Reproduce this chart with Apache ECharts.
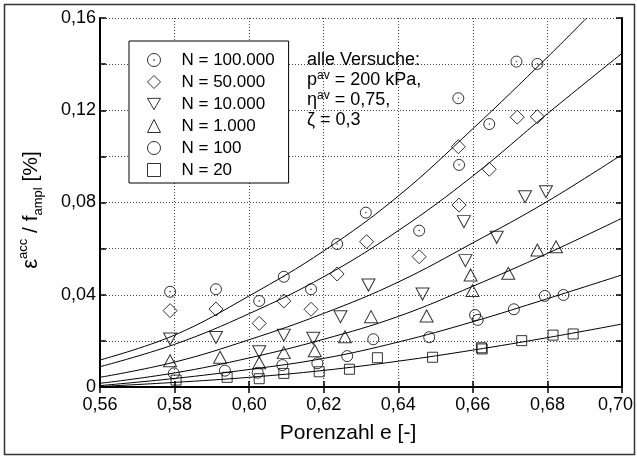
<!DOCTYPE html>
<html><head><meta charset="utf-8">
<script src="https://cdn.jsdelivr.net/npm/echarts@6/dist/echarts.min.js"></script>
<style>html,body{margin:0;padding:0;background:#fff}#c{width:637px;height:459px}</style>
</head><body><div id="c"></div>
<script>
// ---- tick definitions ----
const xMin = 0.56, xMax = 0.70, xStep = 0.02;
const yMin = 0, yMax = 0.16, yStep = 0.02;

// ---- series names ----
const seriesNames = ['N = 100.000', 'N = 50.000', 'N = 10.000', 'N = 1.000', 'N = 100', 'N = 20'];

// ---- measured points [e, eps_acc/f_ampl] ----
const pts100k = [[0.5788,0.0413],[0.5911,0.0424],[0.6027,0.0373],[0.6093,0.0478],[0.6166,0.0424],[0.6236,0.0620],[0.6313,0.0756],[0.6456,0.0678],[0.6561,0.1252],[0.6563,0.0963],[0.6644,0.1140],[0.6717,0.1411],[0.6773,0.1401]];
const pts50k  = [[0.5788,0.0331],[0.5911,0.0338],[0.6027,0.0276],[0.6093,0.0373],[0.6166,0.0337],[0.6236,0.0490],[0.6315,0.0630],[0.6456,0.0565],[0.6561,0.1042],[0.6563,0.0789],[0.6644,0.0944],[0.6719,0.1170],[0.6773,0.1172]];
const pts10k  = [[0.5788,0.0208],[0.5911,0.0215],[0.6027,0.0153],[0.6093,0.0225],[0.6172,0.0211],[0.6245,0.0305],[0.6320,0.0442],[0.6465,0.0403],[0.6576,0.0717],[0.6580,0.0548],[0.6664,0.0649],[0.6740,0.0825],[0.6796,0.0847]];
const pts1k   = [[0.5788,0.0114],[0.5922,0.0129],[0.6027,0.0105],[0.6093,0.0149],[0.6176,0.0157],[0.6257,0.0218],[0.6327,0.0305],[0.6476,0.0308],[0.6594,0.0486],[0.6599,0.0418],[0.6695,0.0493],[0.6773,0.0594],[0.6823,0.0608]];
const pts100  = [[0.5798,0.0059],[0.5935,0.0071],[0.6023,0.0062],[0.6089,0.0095],[0.6183,0.0103],[0.6263,0.0134],[0.6333,0.0207],[0.6483,0.0216],[0.6606,0.0312],[0.6613,0.0291],[0.6710,0.0337],[0.6793,0.0395],[0.6843,0.0399]];
const pts20   = [[0.5804,0.0030],[0.5941,0.0042],[0.6027,0.0036],[0.6093,0.0059],[0.6188,0.0066],[0.6269,0.0077],[0.6344,0.0127],[0.6492,0.0129],[0.6623,0.0170],[0.6625,0.0165],[0.6731,0.0201],[0.6815,0.0225],[0.6869,0.0230]];

// ---- fitted curves ----
const fit100k = [[0.56,0.0117],[0.58,0.0225],[0.60,0.0395],[0.62,0.0590],[0.64,0.0828],[0.66,0.1120],[0.68,0.1430],[0.6905,0.1600]];
const fit50k  = [[0.56,0.0088],[0.58,0.0185],[0.60,0.0318],[0.62,0.0478],[0.64,0.0678],[0.66,0.0915],[0.68,0.1185],[0.70,0.1447]];
const fit10k  = [[0.56,0.0042],[0.58,0.0108],[0.60,0.0205],[0.62,0.0319],[0.64,0.0455],[0.66,0.0625],[0.68,0.0805],[0.70,0.1008]];
const fit1k   = [[0.56,0.0016],[0.58,0.0061],[0.60,0.0126],[0.62,0.0207],[0.64,0.0306],[0.66,0.0437],[0.68,0.0579],[0.70,0.0732]];
const fit100  = [[0.56,0.0006],[0.58,0.0037],[0.60,0.0076],[0.62,0.0124],[0.64,0.0195],[0.66,0.0283],[0.68,0.0383],[0.70,0.0486]];
const fit20   = [[0.56,0.0002],[0.58,0.0020],[0.60,0.0042],[0.62,0.0072],[0.64,0.0112],[0.66,0.0160],[0.68,0.0214],[0.70,0.0273]];

const pointSets = [pts100k, pts50k, pts10k, pts1k, pts100, pts20];
const fitSets = [fit100k, fit50k, fit10k, fit1k, fit100, fit20];

const FONT = '"Liberation Sans", Arial, Helvetica, sans-serif';
const symbols = [
  'path://M50,0A50,50,0,1,1,49.9,0ZM50,47A3,3,0,1,1,49.9,47Z',
  'diamond',
  'path://M0,0L100,0L50,87Z',
  'triangle',
  'circle',
  'rect'
];
const sizes = [11, 14, [13, 12], [13, 12], 11, 10];

function fmt(v) {
  const k = Math.round(v / 0.02);
  if (k % 2 !== 0) return '';
  if (k === 0) return '0';
  return v.toFixed(2).replace('.', ',');
}
function fmtX(v) {
  const s = v.toFixed(2).replace('.', ',');
  return Math.abs(v - xMax) < 1e-9 ? '{last|' + s + '}' : s;
}

const chart = echarts.init(document.getElementById('c'), null, {renderer: 'canvas'});

const series = [];
fitSets.forEach((d, i) => {
  series.push({
    type: 'line', data: d, smooth: 0.4, showSymbol: false, silent: true,
    xAxisIndex: 0, yAxisIndex: 0, clip: true,
    lineStyle: {color: '#000', width: 1}, z: 2
  });
});
pointSets.forEach((d, i) => {
  series.push({
    name: seriesNames[i], type: 'scatter', data: d,
    symbol: symbols[i], symbolSize: sizes[i],
    itemStyle: {color: 'rgba(0,0,0,0)', borderColor: '#000', borderWidth: 1},
    z: 3
  });
});

const axisCommon = {
  type: 'value',
  axisLine: {show: true, lineStyle: {color: '#000', width: 2}},
  axisTick: {show: true, inside: true, length: 6, lineStyle: {color: '#000', width: 1.5}},
};

chart.setOption({
  animation: false,
  backgroundColor: '#fff',
  grid: {left: 100, right: 15, top: 18, bottom: 72, outerBoundsMode: 'none', containLabel: false},
  xAxis: [
    Object.assign({}, axisCommon, {
      min: xMin, max: xMax, interval: xStep, position: 'bottom',
      axisLabel: {formatter: fmtX, color: '#000', fontSize: 18, fontFamily: FONT, margin: 9,
        rich: {last: {fontSize: 18, fontFamily: FONT, color: '#000', padding: [0, 13, 0, 0]}}},
      splitLine: {show: true, lineStyle: {color: '#444', width: 1, type: [1, 2]}}
    }),
    Object.assign({}, axisCommon, {
      min: xMin, max: xMax, interval: xStep, position: 'top',
      axisLabel: {show: false}, splitLine: {show: false}
    })
  ],
  yAxis: [
    Object.assign({}, axisCommon, {
      min: yMin, max: yMax, interval: yStep, position: 'left',
      axisLabel: {formatter: fmt, color: '#000', fontSize: 18, fontFamily: FONT, margin: 4},
      splitLine: {show: true, lineStyle: {color: '#444', width: 1, type: [1, 2]}}
    }),
    Object.assign({}, axisCommon, {
      min: yMin, max: yMax, interval: yStep, position: 'right',
      axisLabel: {show: false}, splitLine: {show: false}
    })
  ],
  legend: {
    data: seriesNames,
    orient: 'vertical', left: 129, top: 41,
    padding: [8, 14, 2, 18],
    itemWidth: 13, itemHeight: 13, itemGap: 0,
    backgroundColor: '#fff', borderColor: '#000', borderWidth: 1,
    textStyle: {fontSize: 17, fontFamily: FONT, color: '#000', lineHeight: 22, padding: [0, 0, 0, 16]},
    itemStyle: {color: 'rgba(0,0,0,0)', borderColor: '#000', borderWidth: 1},
    selectedMode: false
  },
  graphic: [
    {type: 'rect', shape: {x: 4.5, y: 4.5, width: 630, height: 450}, style: {fill: 'none', stroke: '#333', lineWidth: 1.5}, silent: true, z: 0},
    {type: 'text', x: 307, y: 50, silent: true, z: 10,
     style: {
       text: '{t|alle Versuche:}\n{t|p}{s|av}{t| = 200 kPa,}\n{t|η}{s|av}{t| = 0,75,}\n{t|ζ = 0,3}',
       rich: {
         t: {fontSize: 18, fontFamily: FONT, fill: '#000', lineHeight: 20},
         s: {fontSize: 12, fontFamily: FONT, fill: '#000', lineHeight: 11, verticalAlign: 'top'}
       }
     }},
    {type: 'text', x: 348, y: 433, silent: true,
     style: {text: 'Porenzahl e [-]', fontSize: 21, fontFamily: FONT, fill: '#000', align: 'center', verticalAlign: 'middle'}},
    {type: 'text', x: 31, y: 210, rotation: Math.PI / 2, silent: true,
     style: {
       text: '{e|ε}{sup|acc}{n| / f}{sub|ampl}{n| [%]}',
       align: 'center', verticalAlign: 'middle',
       rich: {
         e: {fontSize: 22, fontFamily: FONT, fill: '#000', lineHeight: 28},
         n: {fontSize: 21, fontFamily: FONT, fill: '#000', lineHeight: 28},
         sup: {fontSize: 13, fontFamily: FONT, fill: '#000', lineHeight: 16, verticalAlign: 'top'},
         sub: {fontSize: 13, fontFamily: FONT, fill: '#000', lineHeight: 16, verticalAlign: 'bottom'}
       }
     }}
  ],
  series: series
});
</script>
</body></html>
